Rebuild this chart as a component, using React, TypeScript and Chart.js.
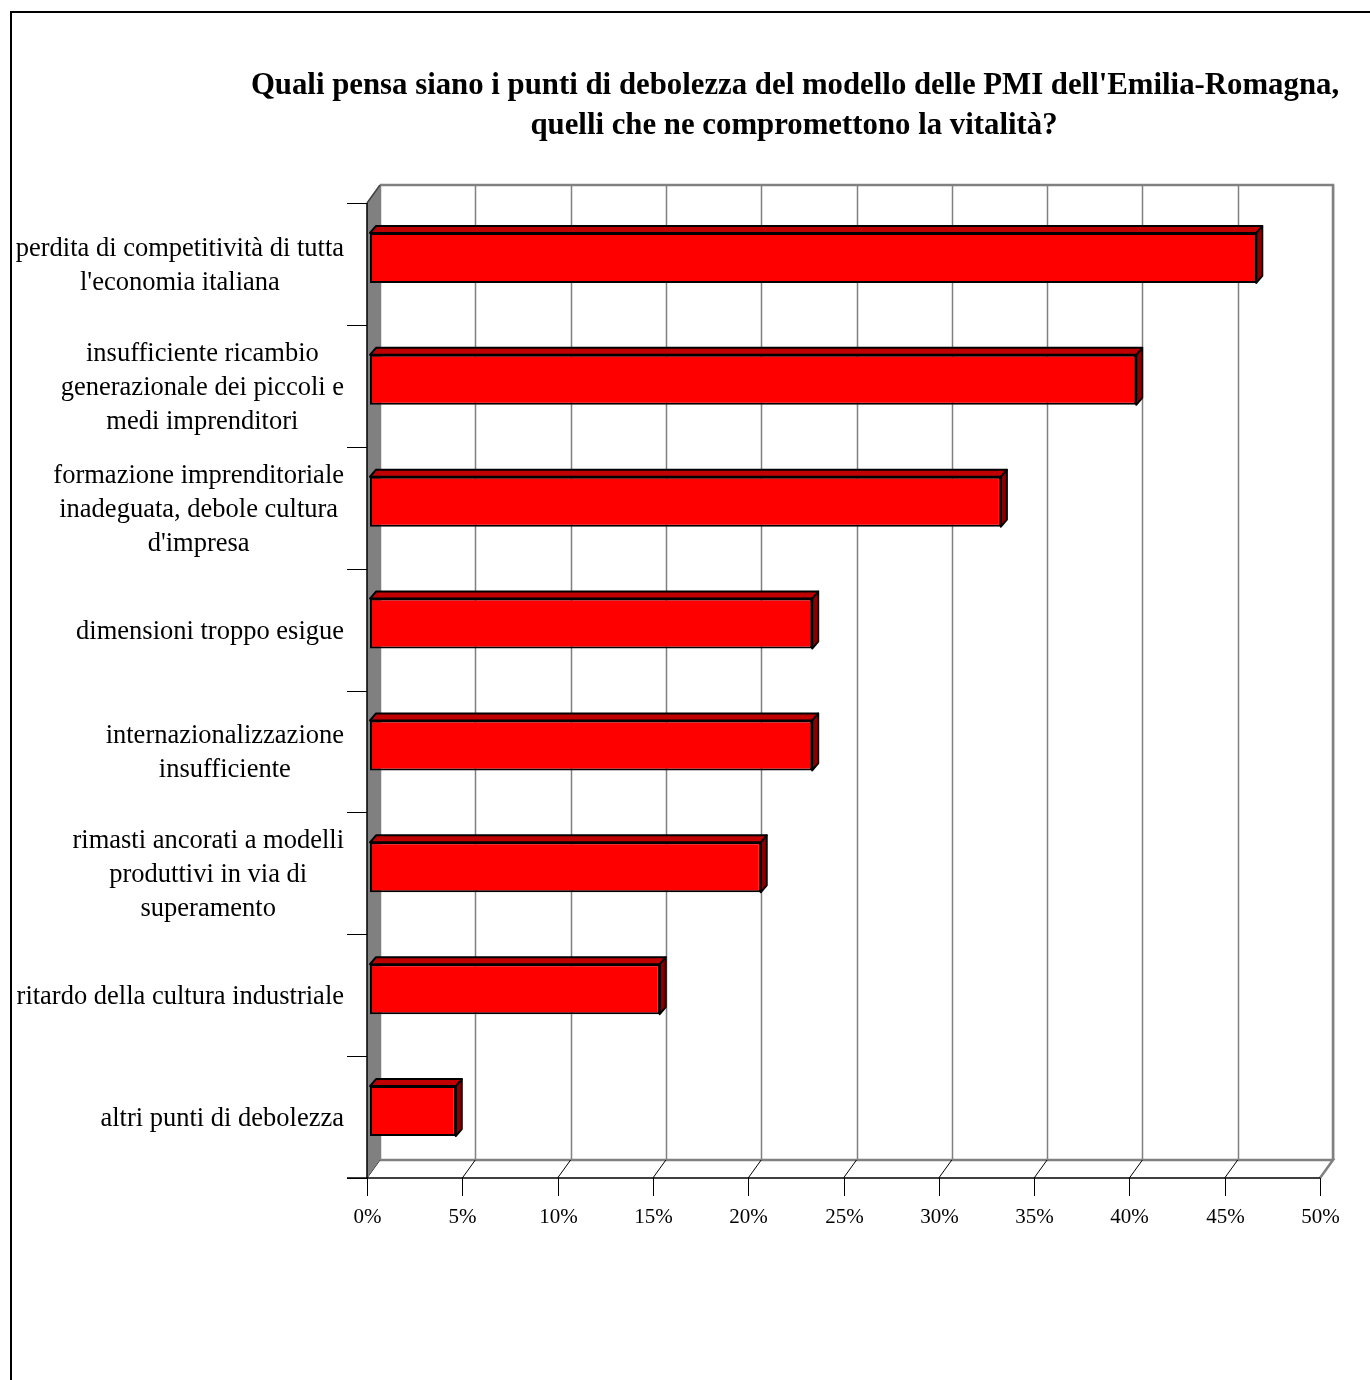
import { useEffect, useRef } from "react";
import { Chart, registerables } from "chart.js";

Chart.register(...registerables);

const titleLines = [
  "Quali pensa siano i punti di debolezza del modello delle PMI dell'Emilia-Romagna,",
  "quelli che ne compromettono la vitalità?",
];

const categories: string[][] = [
  ["perdita di competitività di tutta", "l'economia italiana"],
  ["insufficiente ricambio", "generazionale dei piccoli e", "medi imprenditori"],
  ["formazione imprenditoriale", "inadeguata, debole cultura", "d'impresa"],
  ["dimensioni troppo esigue"],
  ["internazionalizzazione", "insufficiente"],
  ["rimasti ancorati a modelli", "produttivi in via di", "superamento"],
  ["ritardo della cultura industriale"],
  ["altri punti di debolezza"],
];

const values = [46.5, 40.2, 33.1, 23.2, 23.2, 20.5, 15.2, 4.5];

const tickValues = [0, 5, 10, 15, 20, 25, 30, 35, 40, 45, 50];
const tickLabels = ["0%", "5%", "10%", "15%", "20%", "25%", "30%", "35%", "40%", "45%", "50%"];

// 3D geometry offsets (relative to the bar plane used by the chart area)
const FRONT = { dx: -3, dy: 6 };
const BACK = { dx: 10, dy: -12 };
const BAR3D = { dx: 6, dy: -7 };
const SERIF = '"Liberation Serif", "Times New Roman", serif';

const frame3d = {
  id: "frame3d",
  beforeDatasetsDraw(chart: any) {
    const ctx: CanvasRenderingContext2D = chart.ctx;
    const ca = chart.chartArea;
    const xs = chart.scales.x;
    const ys = chart.scales.y;
    ctx.save();
    // background
    ctx.fillStyle = "#ffffff";
    ctx.fillRect(0, 0, chart.width, chart.height);
    // outer frame
    ctx.strokeStyle = "#000000";
    ctx.lineWidth = 2;
    ctx.strokeRect(11, 12, 3000, 3000);

    // title
    ctx.fillStyle = "#000000";
    ctx.font = `bold 30.8px ${SERIF}`;
    ctx.textAlign = "center";
    ctx.textBaseline = "middle";
    ctx.fillText(titleLines[0], 795, 86);
    ctx.fillText(titleLines[1], 794, 126);

    const x0 = xs.getPixelForValue(tickValues[0]);
    const x1 = xs.getPixelForValue(tickValues[tickValues.length - 1]);
    const ft = ca.top + FRONT.dy;
    const fb = ca.bottom + FRONT.dy;
    const bt = ca.top + BACK.dy;
    const bb = ca.bottom + BACK.dy;
    const fx0 = x0 + FRONT.dx;
    const fx1 = x1 + FRONT.dx;
    const bx0 = x0 + BACK.dx;
    const bx1 = x1 + BACK.dx;

    // gridlines on back wall
    ctx.strokeStyle = "#808080";
    ctx.lineWidth = 1.5;
    tickValues.forEach((v) => {
      const px = Math.round(xs.getPixelForValue(v) + BACK.dx) + 0.5;
      ctx.beginPath();
      ctx.moveTo(px, bt);
      ctx.lineTo(px, bb);
      ctx.stroke();
    });
    // back plane top and right edges
    ctx.lineWidth = 2.5;
    ctx.beginPath();
    ctx.moveTo(bx0, bt);
    ctx.lineTo(bx1, bt);
    ctx.lineTo(bx1, bb);
    ctx.stroke();

    // floor
    ctx.fillStyle = "#ffffff";
    ctx.beginPath();
    ctx.moveTo(fx0, fb);
    ctx.lineTo(bx0, bb);
    ctx.lineTo(bx1, bb);
    ctx.lineTo(fx1, fb);
    ctx.closePath();
    ctx.fill();
    ctx.strokeStyle = "#808080";
    ctx.lineWidth = 2.5;
    ctx.beginPath();
    ctx.moveTo(bx0, bb);
    ctx.lineTo(bx1, bb);
    ctx.lineTo(fx1, fb);
    ctx.stroke();
    // floor diagonals
    ctx.strokeStyle = "#000000";
    ctx.lineWidth = 1;
    tickValues.forEach((v, i) => {
      if (i === tickValues.length - 1) return;
      const p = xs.getPixelForValue(v);
      ctx.beginPath();
      ctx.moveTo(p + FRONT.dx, fb);
      ctx.lineTo(p + BACK.dx, bb);
      ctx.stroke();
    });

    // left wall
    ctx.fillStyle = "#808080";
    ctx.beginPath();
    ctx.moveTo(fx0, ft);
    ctx.lineTo(bx0, bt);
    ctx.lineTo(bx0, bb);
    ctx.lineTo(fx0, fb);
    ctx.closePath();
    ctx.fill();
    ctx.strokeStyle = "#404040";
    ctx.lineWidth = 1.5;
    ctx.beginPath();
    ctx.moveTo(fx0, ft);
    ctx.lineTo(bx0, bt);
    ctx.stroke();

    // front axes
    ctx.strokeStyle = "#000000";
    ctx.lineWidth = 1.5;
    ctx.beginPath();
    ctx.moveTo(fx0, ft);
    ctx.lineTo(fx0, fb);
    ctx.moveTo(fx0 - 20, fb);
    ctx.lineTo(fx1, fb);
    ctx.stroke();

    // category tick marks
    const n = categories.length;
    ctx.lineWidth = 1;
    for (let i = 0; i <= n; i++) {
      let y: number;
      if (i === 0) y = ca.top;
      else if (i === n) y = ca.bottom;
      else y = (ys.getPixelForValue(i - 1) + ys.getPixelForValue(i)) / 2;
      y = Math.round(y + FRONT.dy) + 0.5;
      ctx.beginPath();
      ctx.moveTo(fx0 - 20, y);
      ctx.lineTo(fx0, y);
      ctx.stroke();
    }
    // value tick marks and labels
    ctx.font = `21px ${SERIF}`;
    ctx.fillStyle = "#000000";
    ctx.textAlign = "center";
    ctx.textBaseline = "middle";
    tickValues.forEach((v, i) => {
      const px = Math.round(xs.getPixelForValue(v) + FRONT.dx) + 0.5;
      ctx.beginPath();
      ctx.moveTo(px, fb);
      ctx.lineTo(px, fb + 18);
      ctx.stroke();
      ctx.fillText(tickLabels[i], px, fb + 39);
    });

    // category labels
    ctx.font = `26.5px ${SERIF}`;
    const right = fx0 - 23;
    const lh = 34;
    categories.forEach((lines, i) => {
      const cy = ys.getPixelForValue(i) + FRONT.dy + 2;
      const maxW = Math.max(...lines.map((l) => ctx.measureText(l).width));
      const cx = right - maxW / 2;
      lines.forEach((l, j) => {
        ctx.fillText(l, cx, cy + (j - (lines.length - 1) / 2) * lh);
      });
    });
    ctx.restore();
  },
  afterDatasetsDraw(chart: any) {
    const ctx: CanvasRenderingContext2D = chart.ctx;
    const meta = chart.getDatasetMeta(0);
    ctx.save();
    ctx.strokeStyle = "#000000";
    ctx.lineWidth = 2;
    ctx.lineJoin = "round";
    meta.data.forEach((el: any) => {
      const p = el.getProps(["x", "y", "base", "height"], true);
      const xa = Math.min(p.x, p.base);
      const xb = Math.max(p.x, p.base);
      const top = p.y - p.height / 2;
      const bottom = p.y + p.height / 2;
      // top face
      ctx.fillStyle = "#c00000";
      ctx.beginPath();
      ctx.moveTo(xa, top);
      ctx.lineTo(xa + BAR3D.dx, top + BAR3D.dy);
      ctx.lineTo(xb + BAR3D.dx, top + BAR3D.dy);
      ctx.lineTo(xb, top);
      ctx.closePath();
      ctx.fill();
      ctx.stroke();
      // side face
      ctx.fillStyle = "#8a0000";
      ctx.beginPath();
      ctx.moveTo(xb, top);
      ctx.lineTo(xb + BAR3D.dx, top + BAR3D.dy);
      ctx.lineTo(xb + BAR3D.dx, bottom + BAR3D.dy);
      ctx.lineTo(xb, bottom);
      ctx.closePath();
      ctx.fill();
      ctx.stroke();
    });
    ctx.restore();
  },
};

export default function App() {
  const ref = useRef<HTMLCanvasElement | null>(null);
  useEffect(() => {
    if (!ref.current) return;
    const chart = new Chart(ref.current, {
      type: "bar",
      data: {
        labels: categories,
        datasets: [
          {
            data: values,
            backgroundColor: "#ff0000",
            borderColor: "#000000",
            borderWidth: 2,
            borderSkipped: false,
            barPercentage: 0.41,
            categoryPercentage: 1,
          },
        ],
      },
      options: {
        indexAxis: "y",
        responsive: false,
        animation: false,
        devicePixelRatio: 1,
        layout: { padding: { left: 370, right: 47, top: 197, bottom: 208 } },
        plugins: { legend: { display: false }, title: { display: false }, tooltip: { enabled: false } },
        scales: {
          x: { type: "linear", min: 0, max: 50, display: false },
          y: { type: "category", display: false },
        },
      },
      plugins: [frame3d],
    });
    return () => chart.destroy();
  }, []);
  return (
    <div style={{ position: "absolute", left: 0, top: 0, width: 1370, height: 1380 }}>
      <canvas ref={ref} width={1370} height={1380} style={{ width: 1370, height: 1380 }} />
    </div>
  );
}
